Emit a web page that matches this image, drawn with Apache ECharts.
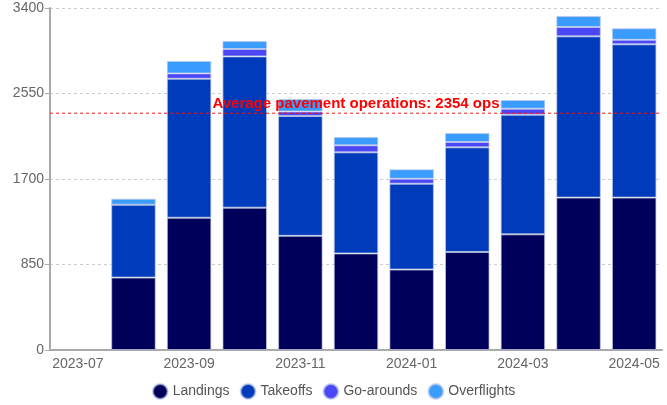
<!DOCTYPE html>
<html>
<head>
<meta charset="utf-8">
<script src="https://cdn.jsdelivr.net/npm/echarts@6/dist/echarts.min.js"></script>
<style>
  html, body { margin: 0; padding: 0; background: #fff; }
  #chart { width: 667px; height: 405px; }
</style>
</head>
<body>
<div id="chart"></div>
<script>
// Monthly runway / airspace operations
const months = ['2023-07', '2023-08', '2023-09', '2023-10', '2023-11', '2023-12',
                '2024-01', '2024-02', '2024-03', '2024-04', '2024-05'];
const landings    = ['-', 720, 1315, 1415, 1135, 960, 800, 975, 1150, 1515, 1515];
const takeoffs    = ['-', 725, 1382, 1504, 1191, 1005, 853, 1040, 1189, 1603, 1524];
const goArounds   = ['-', 0, 53, 73, 45, 70, 50, 53, 60, 93, 45];
const overflights = ['-', 59, 123, 79, 124, 82, 93, 89, 86, 109, 114];
const yTicks = [0, 850, 1700, 2550, 3400];
const avgPavementOps = 2354;

const colors = {
  Landings: '#00005a',
  Takeoffs: '#003bbb',
  'Go-arounds': '#4b46f7',
  Overflights: '#3b9cff'
};
const avgColor = '#f01818';

const font = 'Arial, "Liberation Sans", sans-serif';

function barSeries(name, data) {
  return {
    name: name,
    type: 'bar',
    stack: 'ops',
    data: data,
    barCategoryGap: '20%',
    itemStyle: {
      color: colors[name],
      borderColor: 'rgba(190,200,230,0.7)',
      borderWidth: 1
    }
  };
}

// average line spans the full plot width on a hidden 0..1 axis
const avgLine = [
  [0, avgPavementOps],
  [1, avgPavementOps]
];

const chart = echarts.init(document.getElementById('chart'), null, { renderer: 'canvas' });
chart.setOption({
  animation: false,
  textStyle: { fontFamily: font },
  grid: { left: 50, right: 5, top: 8, bottom: 55, containLabel: false },
  legend: {
    bottom: 0,
    left: 'center',
    icon: 'circle',
    itemWidth: 15,
    itemHeight: 15,
    itemGap: 10,
    textStyle: { fontSize: 14, color: '#555', fontFamily: font },
    data: ['Landings', 'Takeoffs', 'Go-arounds', 'Overflights']
  },
  xAxis: [{
    type: 'category',
    data: months,
    boundaryGap: true,
    axisLine: { lineStyle: { color: '#aaa', width: 2 } },
    axisTick: { alignWithLabel: true, interval: 1, lineStyle: { color: '#aaa' } },
    axisLabel: { interval: 1, fontSize: 14, color: '#666', margin: 7, fontFamily: font }
  }, {
    type: 'value',
    min: 0,
    max: 1,
    show: false
  }],
  yAxis: {
    type: 'value',
    min: yTicks[0],
    max: yTicks[yTicks.length - 1],
    interval: yTicks[1] - yTicks[0],
    axisLine: { show: true, lineStyle: { color: '#aaa', width: 2 } },
    axisTick: { show: true, lineStyle: { color: '#aaa' } },
    axisLabel: {
      fontSize: 14, color: '#666', margin: 6, fontFamily: font,
      formatter: function (v) { return String(v); }
    },
    splitLine: { lineStyle: { color: '#ccc', type: [3, 3] } }
  },
  series: [
    barSeries('Landings', landings),
    barSeries('Takeoffs', takeoffs),
    barSeries('Go-arounds', goArounds),
    barSeries('Overflights', overflights),
    {
      name: 'Average',
      type: 'line',
      xAxisIndex: 1,
      data: avgLine,
      z: 5,
      silent: true,
      symbol: 'none',
      showSymbol: false,
      color: avgColor,
      lineStyle: { color: avgColor, type: [3, 3], width: 1 },
      markPoint: {
        silent: true,
        symbol: 'circle',
        symbolSize: 0,
        itemStyle: { color: 'rgba(0,0,0,0)' },
        label: {
          show: true,
          position: 'top',
          distance: 2,
          formatter: 'Average pavement operations: ' + avgPavementOps + ' ops',
          color: '#ff0000',
          fontWeight: 'bold',
          fontSize: 15,
          fontFamily: font
        },
        data: [{ coord: [0.5, avgPavementOps] }]
      }
    }
  ]
});
</script>
</body>
</html>
